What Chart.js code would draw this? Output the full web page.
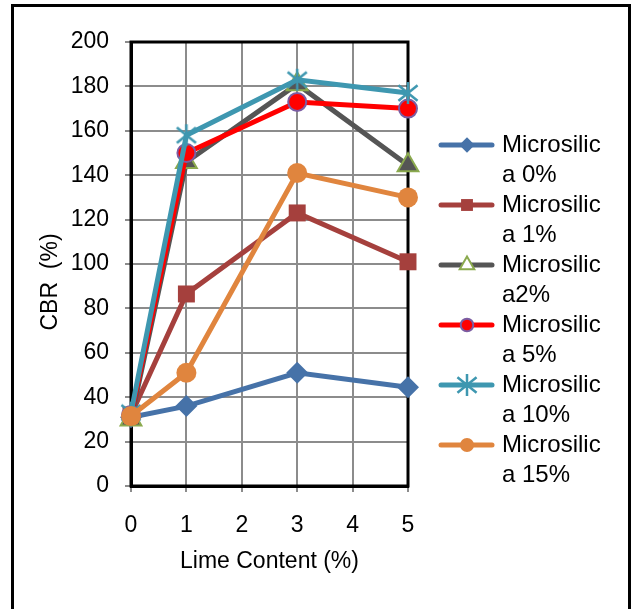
<!DOCTYPE html>
<html>
<head>
<meta charset="utf-8">
<script src="https://cdn.jsdelivr.net/npm/chart.js@4/dist/chart.umd.min.js"></script>
<style>
  body { margin: 0; background: #fff; }
  #wrap { width: 637px; height: 609px; }
</style>
</head>
<body>
<div id="wrap"><canvas id="myChart" width="637" height="609"></canvas></div>
<script>
// lime content (%) on the x axis
const limeContent = [0, 1, 3, 5];

// CBR (%) for each microsilica dose
const micro0 = [31, 36, 51, 44.5];
const micro1 = [32, 86.5, 123, 101];
const micro2 = [30, 146, 181, 144.5];
const micro5 = [32, 150, 173, 170];
const micro10 = [33, 158, 183, 177];
const micro15 = [31.5, 51, 141, 130];

const seriesNames = [
  ["Microsilic", "a 0%"],
  ["Microsilic", "a 1%"],
  ["Microsilic", "a2%"],
  ["Microsilic", "a 5%"],
  ["Microsilic", "a 10%"],
  ["Microsilic", "a 15%"],
];

const FONT = "'Liberation Sans', Arial, sans-serif";

// 6 armed asterisk like the excel star marker
function makeStar(color, size) {
  const c = document.createElement("canvas");
  c.width = size;
  c.height = size;
  const g = c.getContext("2d");
  const m = size / 2;
  const r = size / 2 - 1;
  g.strokeStyle = color;
  g.lineWidth = 2.5;
  g.beginPath();
  g.moveTo(m, m - r);
  g.lineTo(m, m + r);
  g.moveTo(m - r * 0.87, m - r * 0.7);
  g.lineTo(m + r * 0.87, m + r * 0.7);
  g.moveTo(m + r * 0.87, m - r * 0.7);
  g.lineTo(m - r * 0.87, m + r * 0.7);
  g.stroke();
  return c;
}

function pts(vals) {
  return vals.map((v, i) => ({ x: limeContent[i], y: v }));
}

const datasets = [
  { data: pts(micro0), borderColor: "#4672A8", backgroundColor: "#4672A8",
    pointStyle: "rectRot", pointRadius: 11, pointBorderWidth: 0, order: 5 },
  { data: pts(micro1), borderColor: "#A5403D", backgroundColor: "#A5403D",
    pointStyle: "rect", pointRadius: 12, pointBorderWidth: 0, order: 4 },
  { data: pts(micro2), borderColor: "#555555", backgroundColor: "#555555",
    pointStyle: "triangle", pointRadius: 12, pointBorderWidth: 2,
    pointBorderColor: "#8BAA4E", legendFill: "#ffffff", order: 3 },
  { data: pts(micro5), borderColor: "#FF0000", backgroundColor: "#FF0000",
    pointStyle: "circle", pointRadius: 9, pointBorderWidth: 2,
    pointBorderColor: "#7B5DA3", order: 2 },
  { data: pts(micro10), borderColor: "#3E97B0", backgroundColor: "#3E97B0",
    pointStyle: makeStar("#3E97B0", 24), pointRadius: 12, order: 1 },
  { data: pts(micro15), borderColor: "#E0853E", backgroundColor: "#E0853E",
    pointStyle: "circle", pointRadius: 10, pointBorderWidth: 0, order: 0 },
];
datasets.forEach((d) => {
  d.borderWidth = 5;
  d.tension = 0;
  d.clip = false;
  d.pointHoverRadius = d.pointRadius;
});

const frame = {
  id: "frame",
  afterDraw(chart) {
    const ctx = chart.ctx;
    ctx.save();
    // outer box
    ctx.strokeStyle = "#000";
    ctx.lineWidth = 3;
    ctx.strokeRect(12.5, 5.5, 617, 610);
    ctx.restore();

    // y title
    ctx.save();
    ctx.fillStyle = "#000";
    ctx.font = "23px " + FONT;
    ctx.textAlign = "center";
    ctx.textBaseline = "middle";
    ctx.translate(51, 282);
    ctx.rotate(-Math.PI / 2);
    ctx.fillText("CBR  (%)", 0, 0);
    ctx.restore();

    // legend
    ctx.save();
    chart.data.datasets.forEach((ds, i) => {
      const y = 145 + i * 60;
      ctx.strokeStyle = ds.borderColor;
      ctx.lineWidth = 5;
      ctx.lineCap = "round";
      ctx.beginPath();
      ctx.moveTo(441, y);
      ctx.lineTo(492, y);
      ctx.stroke();
      ctx.fillStyle = ds.legendFill || ds.backgroundColor;
      ctx.strokeStyle = ds.pointBorderColor || ds.backgroundColor;
      ctx.lineWidth = ds.pointBorderWidth || 1;
      Chart.helpers.drawPoint(ctx, {
        pointStyle: ds.pointStyle,
        radius: typeof ds.pointStyle === "string" ? ds.pointRadius * 0.7 : ds.pointRadius,
        borderWidth: ds.pointBorderWidth || 0,
        rotation: 0,
      }, 467, y);
      ctx.fillStyle = "#000";
      ctx.font = "24px " + FONT;
      ctx.textAlign = "left";
      ctx.textBaseline = "middle";
      ctx.fillText(seriesNames[i][0], 502, y);
      ctx.fillText(seriesNames[i][1], 502, y + 30);
    });
    ctx.restore();
  },
  beforeDatasetsDraw(chart) {
    // top and right edges of the plot box
    const ctx = chart.ctx;
    const a = chart.chartArea;
    ctx.save();
    ctx.strokeStyle = "#000";
    ctx.lineWidth = 3;
    ctx.strokeRect(a.left, a.top, a.right - a.left, a.bottom - a.top);
    ctx.restore();
  },
};

new Chart("myChart", {
  type: "line",
  data: { datasets: datasets },
  plugins: [frame],
  options: {
    responsive: false,
    animation: false,
    layout: { padding: { top: 42, right: 229, left: 0, bottom: 0 } },
    plugins: { legend: { display: false }, tooltip: { enabled: false } },
    scales: {
      x: {
        type: "linear",
        min: 0,
        max: 5,
        afterFit: (s) => { s.height = 123; },
        ticks: { stepSize: 1, color: "#000", padding: 20,
          font: { family: FONT, size: 23 } },
        grid: { color: "#8C8C8C", lineWidth: 2, tickLength: 6 },
        border: { color: "#000", width: 3 },
        title: {
          display: true,
          text: "Lime Content (%)",
          color: "#000",
          font: { family: FONT, size: 23 },
          padding: { top: 0, bottom: 34 },
        },
      },
      y: {
        min: 0,
        max: 200,
        afterFit: (s) => { s.width = 131; },
        ticks: { stepSize: 20, color: "#000", padding: 16,
          font: { family: FONT, size: 23 } },
        grid: { color: "#8C8C8C", lineWidth: 2, tickLength: 6 },
        border: { color: "#000", width: 3 },
      },
    },
  },
});
</script>
</body>
</html>
